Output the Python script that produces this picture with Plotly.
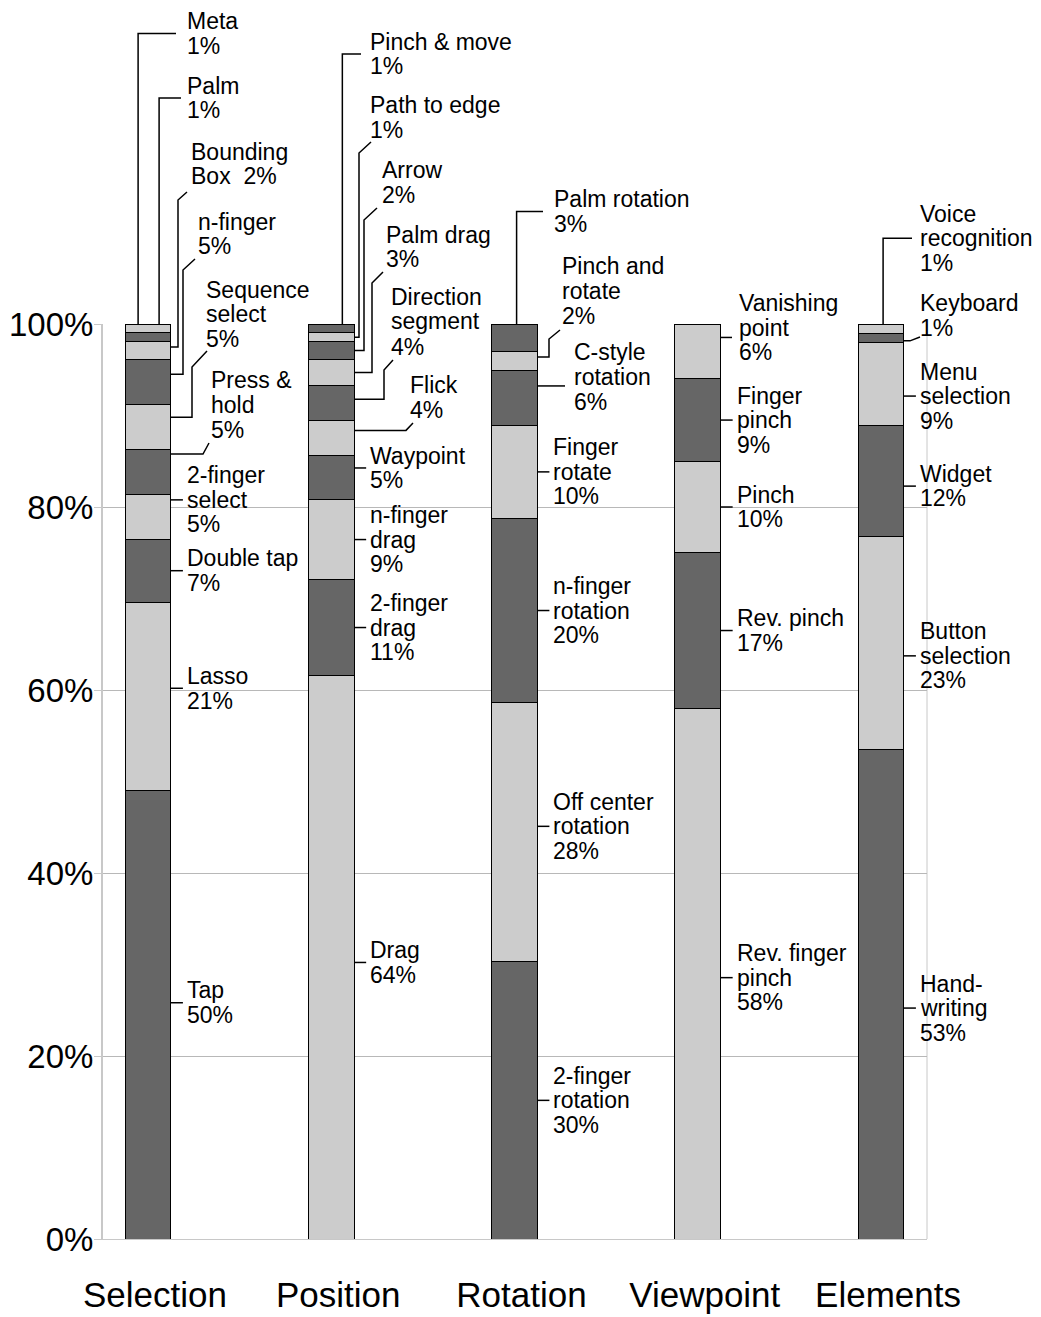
import plotly.graph_objects as go

# ---------------------------------------------------------------- data
CATEGORIES = ["Selection", "Position", "Rotation", "Viewpoint", "Elements"]

# segments listed bottom -> top; "\n" marks a line break in the label
SELECTION_NAMES = ["Tap", "Lasso", "Double tap", "2-finger\nselect", "Press &\nhold",
                   "Sequence\nselect", "n-finger", "Bounding\nBox", "Palm", "Meta"]
SELECTION_PCT = [50, 21, 7, 5, 5, 5, 5, 2, 1, 1]

POSITION_NAMES = ["Drag", "2-finger\ndrag", "n-finger\ndrag", "Waypoint", "Flick",
                  "Direction\nsegment", "Palm drag", "Arrow", "Path to edge", "Pinch & move"]
POSITION_PCT = [64, 11, 9, 5, 4, 4, 3, 2, 1, 1]

ROTATION_NAMES = ["2-finger\nrotation", "Off center\nrotation", "n-finger\nrotation",
                  "Finger\nrotate", "C-style\nrotation", "Pinch and\nrotate", "Palm rotation"]
ROTATION_PCT = [30, 28, 20, 10, 6, 2, 3]

VIEWPOINT_NAMES = ["Rev. finger\npinch", "Rev. pinch", "Pinch", "Finger\npinch", "Vanishing\npoint"]
VIEWPOINT_PCT = [58, 17, 10, 9, 6]

ELEMENTS_NAMES = ["Hand-\nwriting", "Button\nselection", "Widget", "Menu\nselection",
                  "Keyboard", "Voice\nrecognition"]
ELEMENTS_PCT = [53, 23, 12, 9, 1, 1]

Y_TICKS = [0, 20, 40, 60, 80, 100]
Y_TICK_TEXT = ["0%", "20%", "40%", "60%", "80%", "100%"]

NAMES = [SELECTION_NAMES, POSITION_NAMES, ROTATION_NAMES, VIEWPOINT_NAMES, ELEMENTS_NAMES]
VALUES = [SELECTION_PCT, POSITION_PCT, ROTATION_PCT, VIEWPOINT_PCT, ELEMENTS_PCT]

# ---------------------------------------------------------------- layout / style
W, H = 1041, 1317
M_L, M_R, M_T, M_B = 103, 114, 324, 78
PLOT_L, PLOT_R = M_L, W - M_R
PLOT_T, PLOT_B = M_T, H - M_B
X_RANGE = [-0.2456, 4.251]
BAR_W = 0.25

DARK, LIGHT = "#666666", "#cccccc"
GRID = "#b8b8b8"
FRAME = "#c8c8c8"
FONT = "Liberation Sans, Arial, sans-serif"
LABEL_SIZE = 23
PITCH = 24.5          # distance between label lines, px
TICK_LEN = 12         # short leader for plain labels
TEXT_GAP = 15         # bar edge -> label text

# placement of labels (figure px); dy nudges where a leader meets its segment
#   tick : short leader at the segment, text centred on it
#   top  : vertical from the bar top at bar-left + vdx, then across at the text middle
#   elbow: out from the segment, up to yv, then a slanted end at (xe, ye)
#   flat : out from the segment to xk, optional slanted end at (xe, ye)
LABEL_LAYOUT = {
    (0, 0): dict(kind="tick", dy=-12),
    (0, 1): dict(kind="tick", dy=-8),
    (0, 3): dict(kind="tick", dy=-17),
    (0, 4): dict(kind="flat", dy=-18, xk=203, xe=209, ye=443, tx=210, lines=[380, 405, 430]),
    (0, 5): dict(kind="elbow", dy=-10, xv=192, yv=367, xe=207, ye=351, tx=205, lines=[290, 314, 339]),
    (0, 6): dict(kind="elbow", dy=-8, xv=183, yv=270, xe=195, ye=259, tx=197, lines=[222, 246]),
    (0, 7): dict(kind="elbow", dy=-4, xv=178, yv=200, xe=187, ye=192, tx=190, lines=[152, 176], inline=True),
    (0, 8): dict(kind="top", vdx=34, hx=181, tx=186, lines=[86, 110]),
    (0, 9): dict(kind="top", vdx=13, hx=176, tx=186, lines=[21, 46]),
    (1, 0): dict(kind="tick", dy=5),
    (1, 3): dict(kind="tick", dy=-10),
    (1, 4): dict(kind="flat", dy=-8, xk=406, xe=413, ye=423, tx=409, lines=[385, 410]),
    (1, 5): dict(kind="elbow", dy=-4, xv=384, yv=370, xe=393, ye=360, tx=390, lines=[297, 321, 347]),
    (1, 6): dict(kind="elbow", xv=372, yv=283, xe=383, ye=272, tx=385, lines=[235, 259]),
    (1, 7): dict(kind="elbow", xv=364, yv=220, xe=377, ye=208, tx=381, lines=[170, 195]),
    (1, 8): dict(kind="elbow", xv=359, yv=153, xe=371, ye=142, tx=369, lines=[105, 130]),
    (1, 9): dict(kind="top", vdx=34, hx=361, tx=369, lines=[42, 66]),
    (2, 1): dict(kind="tick", dy=-6),
    (2, 4): dict(kind="flat", dy=-12, xk=565, tx=573, lines=[352, 377, 402]),
    (2, 5): dict(kind="elbow", dy=-4, xv=549, yv=339, xe=560, ye=330, tx=561, lines=[266, 291, 316]),
    (2, 6): dict(kind="top", vdx=25, hx=543, tx=553, lines=[199, 224]),
    (3, 0): dict(kind="tick", dy=4),
    (3, 4): dict(kind="flat", dy=-14, xk=732, tx=738, lines=[303, 328, 352]),
    (4, 0): dict(kind="tick", dy=14),
    (4, 1): dict(kind="tick", dy=13),
    (4, 2): dict(kind="tick", dy=5),
    (4, 3): dict(kind="tick", dy=12),
    (4, 4): dict(kind="flat", dy=3, xk=910, xe=920, ye=337, tx=919, lines=[303, 328]),
    (4, 5): dict(kind="top", vdx=25, hx=912, tx=919, lines=[214, 238, 263]),
}


def x_px(xd):
    return PLOT_L + (xd - X_RANGE[0]) / (X_RANGE[1] - X_RANGE[0]) * (PLOT_R - PLOT_L)


def y_px(yd):
    return PLOT_B - yd / 100.0 * (PLOT_B - PLOT_T)


def px(x):
    return (x - PLOT_L) / (PLOT_R - PLOT_L)


def py(y):
    return (PLOT_B - y) / (PLOT_B - PLOT_T)


fig = go.Figure()

# ---------------------------------------------------------------- stacked bars
n_levels = max(len(v) for v in VALUES)
for k in range(n_levels):
    ys, cols = [], []
    for c, vals in enumerate(VALUES):
        ys.append(vals[k] if k < len(vals) else None)
        cols.append(DARK if (c + k) % 2 == 0 else LIGHT)
    fig.add_trace(go.Bar(
        x=CATEGORIES, y=ys, width=BAR_W,
        marker=dict(color=cols, line=dict(color="black", width=1)),
        showlegend=False, hoverinfo="skip",
    ))

# ---------------------------------------------------------------- labels + leaders
shapes, annotations = [], []


def add_text(tx, centers, lines):
    for yc, t in zip(centers, lines):
        annotations.append(dict(
            x=px(tx), y=py(yc), xref="paper", yref="paper",
            text=t, showarrow=False, xanchor="left", yanchor="middle",
            borderpad=0, font=dict(family=FONT, size=LABEL_SIZE, color="black"),
        ))


def add_path(points):
    d = "M " + " L ".join(f"{px(a):.5f},{py(b):.5f}" for a, b in points)
    shapes.append(dict(type="path", path=d, xref="paper", yref="paper",
                       line=dict(color="black", width=1.5)))


for c, (names, vals) in enumerate(zip(NAMES, VALUES)):
    total = float(sum(vals))
    left, right = x_px(c - BAR_W / 2), x_px(c + BAR_W / 2)
    top = y_px(100)
    cum = 0.0
    for k, (name, v) in enumerate(zip(names, vals)):
        lo = cum / total * 100
        cum += v
        hi = cum / total * 100
        spec = LABEL_LAYOUT.get((c, k), dict(kind="tick"))
        ya = y_px((lo + hi) / 2) + spec.get("dy", 0)   # where the leader meets the segment
        lines = name.split("\n")
        if spec.get("inline"):
            lines[-1] = lines[-1] + "\u00a0\u00a0" + f"{v}%"
        else:
            lines.append(f"{v}%")

        kind = spec["kind"]
        if kind == "tick":
            add_path([(right, ya), (right + TICK_LEN, ya)])
            n = len(lines)
            centers = [ya + (i - (n - 1) / 2) * PITCH for i in range(n)]
            add_text(right + TEXT_GAP, centers, lines)
            continue

        if kind == "top":
            hy = sum(spec["lines"]) / len(spec["lines"])
            vx = left + spec["vdx"]
            add_path([(vx, top), (vx, hy), (spec["hx"], hy)])
        elif kind == "elbow":
            add_path([(right, ya), (spec["xv"], ya), (spec["xv"], spec["yv"]),
                      (spec["xe"], spec["ye"])])
        elif kind == "flat":
            pts = [(right, ya), (spec["xk"], ya)]
            if "xe" in spec:
                pts.append((spec["xe"], spec["ye"]))
            add_path(pts)
        add_text(spec["tx"], spec["lines"], lines)

# right frame edge
shapes.append(dict(type="line", xref="paper", yref="paper", x0=1, x1=1, y0=0, y1=1,
                   line=dict(color=FRAME, width=1), layer="below"))

fig.update_layout(
    width=W, height=H,
    margin=dict(l=M_L, r=M_R, t=M_T, b=M_B, pad=0, autoexpand=False),
    paper_bgcolor="white", plot_bgcolor="white",
    barmode="stack", barnorm="percent",
    font=dict(family=FONT, color="black"),
    shapes=shapes, annotations=annotations,
    xaxis=dict(
        type="category", range=X_RANGE, showgrid=False, zeroline=False,
        showline=True, linecolor=FRAME, linewidth=1, ticks="",
        tickfont=dict(size=35, family=FONT, color="black"),
        ticklabelshift=7, ticklabelstandoff=25, automargin=False,
    ),
    yaxis=dict(
        range=[0, 100], tickvals=Y_TICKS, ticktext=Y_TICK_TEXT,
        showgrid=True, gridcolor=GRID, gridwidth=1, zeroline=False,
        showline=True, linecolor=FRAME, linewidth=2,
        ticks="outside", ticklen=7, tickcolor=FRAME, tickwidth=1,
        tickfont=dict(size=33, family=FONT, color="black"),
        ticklabelstandoff=-6, automargin=False,
    ),
)

fig.write_html("out.html")
